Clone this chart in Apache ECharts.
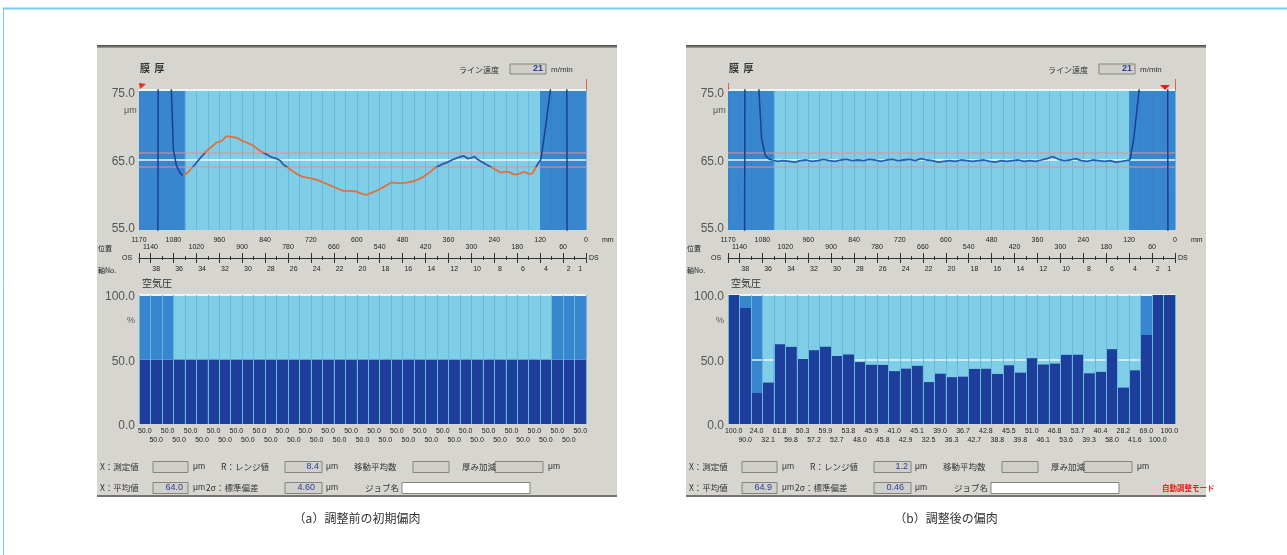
<!DOCTYPE html>
<html>
<head>
<meta charset="utf-8">
<script src="https://cdn.jsdelivr.net/npm/echarts@6/dist/echarts.min.js"></script>
<style>
html,body{margin:0;padding:0;background:#fff;}
#c{width:1287px;height:555px;}
</style>
</head>
<body>
<div id="c"></div>
<script>
// ---- data -------------------------------------------------------------
// column numbers (軸No.) from OS to DS, one column = 30 mm
const colNo = ['39','38','37','36','35','34','33','32','31','30','29','28','27','26','25','24','23','22','21','20',
               '19','18','17','16','15','14','13','12','11','10','9','8','7','6','5','4','3','2','1'];
const axisNoShown = ['38','36','34','32','30','28','26','24','22','20','18','16','14','12','10','8','6','4','2','1'];
const posUpper = [1170, 1080, 960, 840, 720, 600, 480, 360, 240, 120, 0];
const posLower = [1140, 1020, 900, 780, 660, 540, 420, 300, 180, 60];

// film thickness [position mm, µm] before adjustment
const thickBefore = [
  [1054,62.8],[1041,63.3],[1029,64.0],[1011,65.2],[993,66.3],[980,66.9],[967,67.5],[954,67.7],[941,68.4],[928,68.3],
  [915,68.2],[902,67.8],[889,67.5],[876,67.2],[863,66.7],[850,66.2],[836,65.8],[823,65.4],[810,65.2],[800,64.9],
  [793,64.4],[780,63.9],[767,63.4],[754,62.9],[741,62.6],[723,62.4],[706,62.2],[688,61.8],[671,61.4],[654,61.0],
  [636,60.6],[618,60.6],[601,60.5],[588,60.2],[575,60.0],[562,60.3],[549,60.6],[541,60.8],[525,61.3],[510,61.8],
  [495,61.7],[480,61.7],[465,61.8],[449,62.0],[436,62.3],[423,62.7],[410,63.2],[397,63.8],[380,64.3],[362,64.7],
  [347,65.1],[332,65.4],[320,65.6],[310,65.2],[300,65.3],[292,65.5],[284,65.1],[275,64.8],[262,64.4],[249,64.0],
  [236,63.6],[223,63.2],[212,63.3],[201,63.3],[192,63.0],[184,62.9],[173,63.1],[162,63.3],[150,63.0],[140,63.1],
  [131,64.0],[118,65.1]
];
const thickBeforeOS = [[1170,40],[1121,40],[1119,100],[1092,100],[1086,76],[1080,66.5],[1072,64.2],[1062,63.1],[1054,62.8]];
const thickBeforeDS = [[118,65.1],[105,70],[92,75.5],[86,100],[51,100],[49,40],[0,40]];

// film thickness after adjustment
const thickAfter = [
  [1054,65.0],[1040,64.8],[1025,64.9],[1010,64.8],[995,64.7],[980,64.9],[965,65.0],[950,64.8],[935,64.9],[920,65.1],
  [905,64.9],[890,64.8],[875,65.0],[860,65.1],[845,64.9],[830,65.0],[815,64.9],[800,65.1],[785,65.0],[770,64.8],
  [755,65.0],[740,65.1],[725,64.9],[710,65.0],[695,65.1],[680,64.9],[665,65.2],[650,65.0],[635,64.9],[620,64.7],
  [605,64.8],[590,64.9],[575,64.8],[560,65.0],[545,64.9],[530,64.8],[515,64.9],[500,65.0],[485,64.8],[470,64.7],
  [455,64.9],[440,64.8],[425,64.9],[410,65.0],[395,64.8],[380,64.9],[365,64.8],[350,65.0],[335,65.2],[320,65.5],
  [305,65.1],[290,64.9],[275,65.0],[260,65.2],[245,64.9],[230,64.8],[215,65.0],[200,64.9],[185,64.8],[170,64.9],
  [155,64.7],[140,64.8],[128,64.9],[118,65.0]
];
const thickAfterOS = [[1170,40],[1127,40],[1125,100],[1096,100],[1090,76],[1082,68],[1072,65.6],[1062,65.1],[1054,65.0]];
const thickAfterDS = [[118,65.0],[108,68],[98,73],[92,76],[86,100],[20,100],[18,40],[0,40]];

// air pressure % per column
const pressureBefore = [50.0,50.0,50.0,50.0,50.0,50.0,50.0,50.0,50.0,50.0,50.0,50.0,50.0,50.0,50.0,50.0,50.0,50.0,50.0,50.0,
                        50.0,50.0,50.0,50.0,50.0,50.0,50.0,50.0,50.0,50.0,50.0,50.0,50.0,50.0,50.0,50.0,50.0,50.0,50.0];
const pressureAfter = [100.0,90.0,24.0,32.1,61.8,59.8,50.3,57.2,59.9,52.7,53.8,48.0,45.9,45.8,41.0,42.9,45.1,32.5,39.0,36.3,
                       36.7,42.7,42.8,38.8,45.5,39.8,51.0,46.1,46.8,53.6,53.7,39.3,40.4,58.0,28.2,41.6,69.0,100.0,100.0];

// ---- drawing ----------------------------------------------------------
const JP = '"Noto Sans CJK JP", sans-serif';
const NUM = '"Liberation Sans", Arial, sans-serif';
const NARROW = '"Liberation Sans Narrow", "Liberation Sans", sans-serif';
const C_LIGHT = '#80cde7', C_SEP = '#64b8de', C_EDGE = 'rgba(40,118,200,0.82)', C_BAR = '#1d3f9b';
const C_LINE = '#2d5caf', C_EDGE_LINE = '#1b3f92', C_OUT = '#e2703a';

const panels = [
  {left: 97, thick: thickBefore, os: thickBeforeOS, ds: thickBeforeDS, pressure: pressureBefore,
   speed: '21', range: '8.4', mean: '64.0', sigma: '4.60', caption: '（a）調整前の初期偏肉', auto: false},
  {left: 686, thick: thickAfter, os: thickAfterOS, ds: thickAfterDS, pressure: pressureAfter,
   speed: '21', range: '1.2', mean: '64.9', sigma: '0.46', caption: '（b）調整後の偏肉', auto: true}
];

const option = {
  animation: false,
  backgroundColor: '#ffffff',
  grid: [], xAxis: [], yAxis: [], series: [],
  visualMap: [],
  graphic: {elements: []}
};
const G = option.graphic.elements;
const mainSeries = [];

function txt(x, y, text, size, color, align, extra) {
  G.push({type: 'text', z: 60, silent: true,
    style: Object.assign({x: x, y: y, text: text, fill: color || '#333', fontSize: size || 8.5, fontFamily: JP,
      textAlign: align || 'left', align: align || 'left', textVerticalAlign: 'middle', verticalAlign: 'middle'}, extra || {})});
}
function box(x, y, w, h, fill) {
  G.push({type: 'rect', z: 55, silent: true, shape: {x: x, y: y, width: w, height: h},
    style: {fill: fill || '#d0cfc9', stroke: '#85847f', lineWidth: 1}});
}

// outer frame
G.push({type: 'line', z: 5, silent: true, shape: {x1: 3, y1: 8.5, x2: 1287, y2: 8.5}, style: {stroke: '#74cbee', lineWidth: 2}});
G.push({type: 'line', z: 5, silent: true, shape: {x1: 3.5, y1: 8, x2: 3.5, y2: 555}, style: {stroke: '#74cbee', lineWidth: 1}});

panels.forEach(function (p, i) {
  const px = p.left;
  const gTop = option.grid.length;
  option.grid.push({left: px + 42, top: 90, width: 447, height: 140, show: true, backgroundColor: C_LIGHT, borderWidth: 0});
  const gBot = option.grid.length;
  option.grid.push({left: px + 42, top: 295, width: 447, height: 129, show: true, backgroundColor: C_LIGHT, borderWidth: 0});

  const hide = {axisLine: {show: false}, axisTick: {show: false}, splitLine: {show: false}};
  const posAxis = {type: 'value', position: 'bottom', min: 0, max: 1170, inverse: true, interval: 30};

  // --- thickness chart x axes
  const xStripe = option.xAxis.length;
  option.xAxis.push(Object.assign({gridIndex: gTop}, posAxis, hide, {
    axisLabel: {show: false}, splitLine: {show: true, lineStyle: {color: C_SEP, width: 1}}}));
  const upSet = new Set(posUpper), loSet = new Set(posLower);
  option.xAxis.push(Object.assign({gridIndex: gTop}, posAxis, hide, {
    axisLabel: {margin: 7, fontSize: 7, color: '#222', fontFamily: NARROW, showMinLabel: true, showMaxLabel: true,
      formatter: function (v) { return upSet.has(v) ? String(v) : ''; }}}));
  option.xAxis.push(Object.assign({gridIndex: gTop}, posAxis, hide, {
    axisLabel: {margin: 14, fontSize: 7, color: '#222', fontFamily: NARROW,
      formatter: function (v) { return loSet.has(v) ? String(v) : ''; }}}));
  // ruler under the chart: long ticks every 60 mm, short ones between
  const ruler = {type: 'value', position: 'bottom', min: 0, max: 1170, inverse: true, interval: 60, offset: 28,
    axisLabel: {show: false}, splitLine: {show: false}};
  option.xAxis.push(Object.assign({gridIndex: gTop}, ruler, {
    axisLine: {show: true, lineStyle: {color: '#333', width: 1}},
    axisTick: {show: true, length: 5, lineStyle: {color: '#333'}},
    minorTick: {show: true, splitNumber: 2, length: 2, lineStyle: {color: '#333'}}}));
  option.xAxis.push(Object.assign({gridIndex: gTop}, ruler, {
    axisLine: {show: false},
    axisTick: {show: true, inside: true, length: 5, lineStyle: {color: '#333'}},
    minorTick: {show: true, splitNumber: 2, length: 2, lineStyle: {color: '#333'}}}));
  const noSet = new Set(axisNoShown);
  option.xAxis.push({gridIndex: gTop, type: 'category', position: 'bottom', data: colNo, offset: 28, axisLine: {show: false},
    axisTick: {show: false}, splitLine: {show: false},
    axisLabel: {interval: 0, margin: 8, fontSize: 7, color: '#222', fontFamily: NARROW,
      formatter: function (v) { return noSet.has(v) ? v : ''; }}});

  // --- pressure chart x axes
  const xBotStripe = option.xAxis.length;
  option.xAxis.push(Object.assign({gridIndex: gBot, z: 5}, posAxis, hide, {
    axisLabel: {show: false}, splitLine: {show: true, lineStyle: {color: C_SEP, width: 1}}}));
  const xBars = option.xAxis.length;
  const pr = p.pressure;
  option.xAxis.push({gridIndex: gBot, type: 'category', position: 'bottom', data: colNo, axisLine: {show: false}, axisTick: {show: false},
    axisLabel: {interval: function (idx) { return idx % 2 === 0; }, margin: 4, fontSize: 7, color: '#222', fontFamily: NARROW,
      formatter: function (v, idx) { return pr[idx].toFixed(1); }}});
  option.xAxis.push({gridIndex: gBot, type: 'category', position: 'bottom', data: colNo, offset: 9, axisLine: {show: false}, axisTick: {show: false},
    axisLabel: {interval: function (idx) { return idx % 2 === 1; }, margin: 4, fontSize: 7, color: '#222', fontFamily: NARROW,
      formatter: function (v, idx) { return pr[idx].toFixed(1); }}});

  // --- y axes
  const yTop = option.yAxis.length;
  option.yAxis.push({gridIndex: gTop, type: 'value', min: 55, max: 75, interval: 10,
    axisLine: {show: false}, axisTick: {show: false}, splitLine: {show: false},
    axisLabel: {margin: 4, fontSize: 12, color: '#555', fontFamily: NUM,
      formatter: function (v) { return v === 75 ? '{t|75.0}' : v === 55 ? '{b|55.0}' : '{m|' + v.toFixed(1) + '}'; },
      rich: {t: {padding: [8, 0, 0, 0], fontSize: 12, color: '#555', fontFamily: NUM},
             m: {padding: [4, 0, 0, 0], fontSize: 12, color: '#555', fontFamily: NUM},
             b: {padding: [0, 0, 2, 0], fontSize: 12, color: '#555', fontFamily: NUM}}}});
  const yBot = option.yAxis.length;
  option.yAxis.push({gridIndex: gBot, type: 'value', min: 0, max: 100, interval: 50,
    axisLine: {show: false}, axisTick: {show: false}, splitLine: {show: false},
    axisLabel: {margin: 4, fontSize: 12, color: '#555', fontFamily: NUM,
      formatter: function (v) { return '{a|' + v.toFixed(1) + '}'; },
      rich: {a: {padding: [4, 0, 0, 0], fontSize: 12, color: '#555', fontFamily: NUM}}}});

  // --- thickness chart series
  option.series.push({type: 'line', xAxisIndex: xStripe, yAxisIndex: yTop, data: [], z: 1, silent: true,
    markArea: {silent: true, z: 1, itemStyle: {color: C_EDGE}, data: [[{xAxis: 1170}, {xAxis: 1050}], [{xAxis: 120}, {xAxis: 0}]]},
    markLine: {silent: true, z: 1, symbol: 'none', label: {show: false}, data: [
      {yAxis: 75, lineStyle: {color: '#e8f6fb', width: 2, type: 'solid'}},
      {yAxis: 66, lineStyle: {color: 'rgba(236,140,150,0.7)', width: 1.5, type: 'solid'}},
      {yAxis: 65, lineStyle: {color: '#eef8fb', width: 1.5, type: 'solid'}},
      {yAxis: 64, lineStyle: {color: 'rgba(236,140,150,0.7)', width: 1.5, type: 'solid'}}]}});
  [p.os, p.ds].forEach(function (d) {
    option.series.push({type: 'line', xAxisIndex: xStripe, yAxisIndex: yTop, data: d, z: 6, clip: true,
      showSymbol: false, symbol: 'none', lineStyle: {color: C_EDGE_LINE, width: 1.5}, silent: true});
  });
  mainSeries.push(option.series.length);
  option.series.push({type: 'line', xAxisIndex: xStripe, yAxisIndex: yTop, data: p.thick, z: 7, clip: true,
    showSymbol: false, symbol: 'none', lineStyle: {width: 1.8}, silent: true});

  // --- pressure chart series
  option.series.push({type: 'line', xAxisIndex: xBotStripe, yAxisIndex: yBot, data: [], z: 1, silent: true,
    markArea: {silent: true, z: 1, itemStyle: {color: C_EDGE}, data: [[{xAxis: 1170}, {xAxis: 1080}], [{xAxis: 90}, {xAxis: 0}]]},
    markLine: {silent: true, z: 1, symbol: 'none', label: {show: false}, data: [
      {yAxis: 100, lineStyle: {color: '#e8f6fb', width: 2, type: 'solid'}},
      {yAxis: 50, lineStyle: {color: '#e6f4fa', width: 1.5, type: 'solid'}}]}});
  option.series.push({type: 'bar', xAxisIndex: xBars, yAxisIndex: yBot, data: p.pressure, z: 3, silent: true,
    barCategoryGap: '0%', itemStyle: {color: C_BAR}});

  // --- panel chrome
  G.push({type: 'rect', z: -20, silent: true, shape: {x: px, y: 45, width: 520, height: 452}, style: {fill: '#d6d5cf'}});
  G.push({type: 'rect', z: -19, silent: true, shape: {x: px, y: 45, width: 520, height: 3},
    style: {fill: new echarts.graphic.LinearGradient(0, 0, 0, 1, [{offset: 0, color: '#3f3f3c'}, {offset: 1, color: '#a8a7a1'}])}});
  G.push({type: 'rect', z: -19, silent: true, shape: {x: px, y: 495, width: 520, height: 2}, style: {fill: '#74736e'}});

  txt(px + 43, 68, '膜  厚', 10, '#333', 'left', {fontWeight: 'bold'});
  txt(px + 362, 70, 'ライン速度', 8, '#333');
  box(px + 413, 64, 36, 10);
  txt(px + 446, 69, p.speed, 9, '#2a3d9c', 'right', {fontFamily: NUM, fontWeight: 'bold'});
  txt(px + 454, 70, 'm/min', 8, '#333', 'left', {fontFamily: NUM});
  txt(px + 27, 111, 'μm', 9, '#555', 'left', {fontFamily: NUM});

  // start / end markers above the chart
  if (i === 0) {
    G.push({type: 'polygon', z: 60, silent: true, shape: {points: [[px + 42, 83], [px + 49, 84], [px + 43, 89]]}, style: {fill: '#e2301e'}});
  } else {
    G.push({type: 'line', z: 60, silent: true, shape: {x1: px + 42.5, y1: 83, x2: px + 42.5, y2: 90}, style: {stroke: '#e8603c', lineWidth: 1}});
    G.push({type: 'polygon', z: 60, silent: true, shape: {points: [[px + 474, 85], [px + 484, 85], [px + 479, 90]]}, style: {fill: '#e2201a'}});
  }
  G.push({type: 'line', z: 60, silent: true, shape: {x1: px + 489.5, y1: 79, x2: px + 489.5, y2: 90}, style: {stroke: '#e8603c', lineWidth: 1}});

  txt(px + 1, 248, '位置', 7, '#222');
  txt(px + 505, 240, 'mm', 7, '#222', 'left', {fontFamily: NUM});
  txt(px + 25, 258, 'OS', 7, '#222', 'left', {fontFamily: NUM});
  txt(px + 492, 258, 'DS', 7, '#222', 'left', {fontFamily: NUM});
  txt(px + 1, 270, '軸No.', 7, '#222');
  txt(px + 45, 283, '空気圧', 10, '#333');
  txt(px + 30, 321, '%', 9, '#555', 'left', {fontFamily: NUM});

  // measurement fields
  const r1 = 467, r2 = 488;
  txt(px + 3, r1, 'X：測定値');
  box(px + 56, r1 - 5.5, 35, 11);
  txt(px + 96, r1, 'μm', 8.5, '#333', 'left', {fontFamily: NUM});
  txt(px + 124, r1, 'R：レンジ値');
  box(px + 188, r1 - 5.5, 37, 11);
  txt(px + 222, r1, p.range, 9, '#2a3d9c', 'right', {fontFamily: NUM});
  txt(px + 229, r1, 'μm', 8.5, '#333', 'left', {fontFamily: NUM});
  txt(px + 257, r1, '移動平均数');
  box(px + 316, r1 - 5.5, 36, 11);
  txt(px + 365, r1, '厚み加減');
  box(px + 398, r1 - 5.5, 48, 11);
  txt(px + 451, r1, 'μm', 8.5, '#333', 'left', {fontFamily: NUM});

  txt(px + 3, r2, 'X：平均値');
  box(px + 56, r2 - 5.5, 35, 11);
  txt(px + 86, r2, p.mean, 9, '#2a3d9c', 'right', {fontFamily: NUM});
  txt(px + 96, r2, 'μm', 8.5, '#333', 'left', {fontFamily: NUM});
  txt(px + 109, r2, '2σ：標準偏差');
  box(px + 188, r2 - 5.5, 37, 11);
  txt(px + 218, r2, p.sigma, 9, '#2a3d9c', 'right', {fontFamily: NUM});
  txt(px + 229, r2, 'μm', 8.5, '#333', 'left', {fontFamily: NUM});
  txt(px + 268, r2, 'ジョブ名');
  box(px + 305, r2 - 5.5, 128, 11, '#ffffff');
  if (p.auto) txt(px + 476, r2, '自動調整モード', 7.5, '#e02418', 'left', {fontWeight: 'bold'});

  txt(px + 260, 518, p.caption, 12, '#333', 'center');
});

option.visualMap.push({type: 'piecewise', show: false, dimension: 1, seriesIndex: mainSeries,
  pieces: [{gt: 64, lte: 66, color: C_LINE}], outOfRange: {color: C_OUT}});

const chart = echarts.init(document.getElementById('c'), null, {renderer: 'canvas', width: 1287, height: 555});
chart.setOption(option);
</script>
</body>
</html>
